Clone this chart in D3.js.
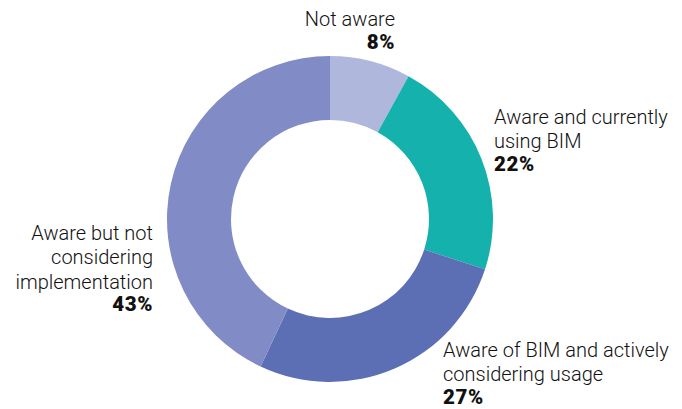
<!DOCTYPE html>
<html lang="en">
<head>
<meta charset="UTF-8">
<title>BIM awareness</title>
<script src="https://d3js.org/d3.v7.min.js"></script>
<style>
    body { margin: 0; background: #fff; }
    svg { display: block; }
    .lbl { font-family: Roboto, "Noto Sans", sans-serif; font-size: 20px; font-weight: 300; fill: #111; }
    .pct { font-weight: 900; font-size: 20.5px; letter-spacing: 0.6px; }
</style>
</head>
<body>
<svg id="chart"></svg>
<script>
    // Data
    const categories = [
        ["Not aware"],
        ["Aware and currently", "using BIM"],
        ["Aware of BIM and actively", "considering usage"],
        ["Aware but not", "considering", "implementation"]
    ];
    const values = [8, 22, 27, 43];
    const colors = ["#b0b7dc", "#14b1ad", "#5d6fb4", "#818bc6"];

    const width = 682, height = 409;
    const cx = 330, cy = 219;
    const outerR = 163, innerR = 99;

    const svg = d3.select("#chart").attr("width", width).attr("height", height);
    const g = svg.append("g").attr("transform", `translate(${cx},${cy})`);

    const pie = d3.pie().sort(null).value(d => d);
    const arc = d3.arc().innerRadius(innerR).outerRadius(outerR);
    const arcs = pie(values);

    g.selectAll("path")
        .data(arcs)
        .enter().append("path")
        .attr("d", arc)
        .attr("fill", (d, i) => colors[i]);

    // label placement (x of anchor, baseline of first line, anchor)
    const labelPos = [
        { x: 395, y: 26, anchor: "end" },
        { x: 494, y: 124, anchor: "start" },
        { x: 443, y: 357, anchor: "start" },
        { x: 153, y: 240, anchor: "end" }
    ];
    const lineH = 24.3;

    const labels = svg.append("g");
    categories.forEach((lines, i) => {
        const p = labelPos[i];
        const t = labels.append("text")
            .attr("class", "lbl")
            .attr("text-anchor", p.anchor);
        lines.forEach((ln, j) => {
            t.append("tspan").attr("x", p.x).attr("y", p.y + j * lineH).text(ln);
        });
        t.append("tspan")
            .attr("class", "pct")
            .attr("x", p.x)
            .attr("y", p.y + lines.length * lineH - 1.5)
            .text(values[i] + "%");
    });
</script>
</body>
</html>
